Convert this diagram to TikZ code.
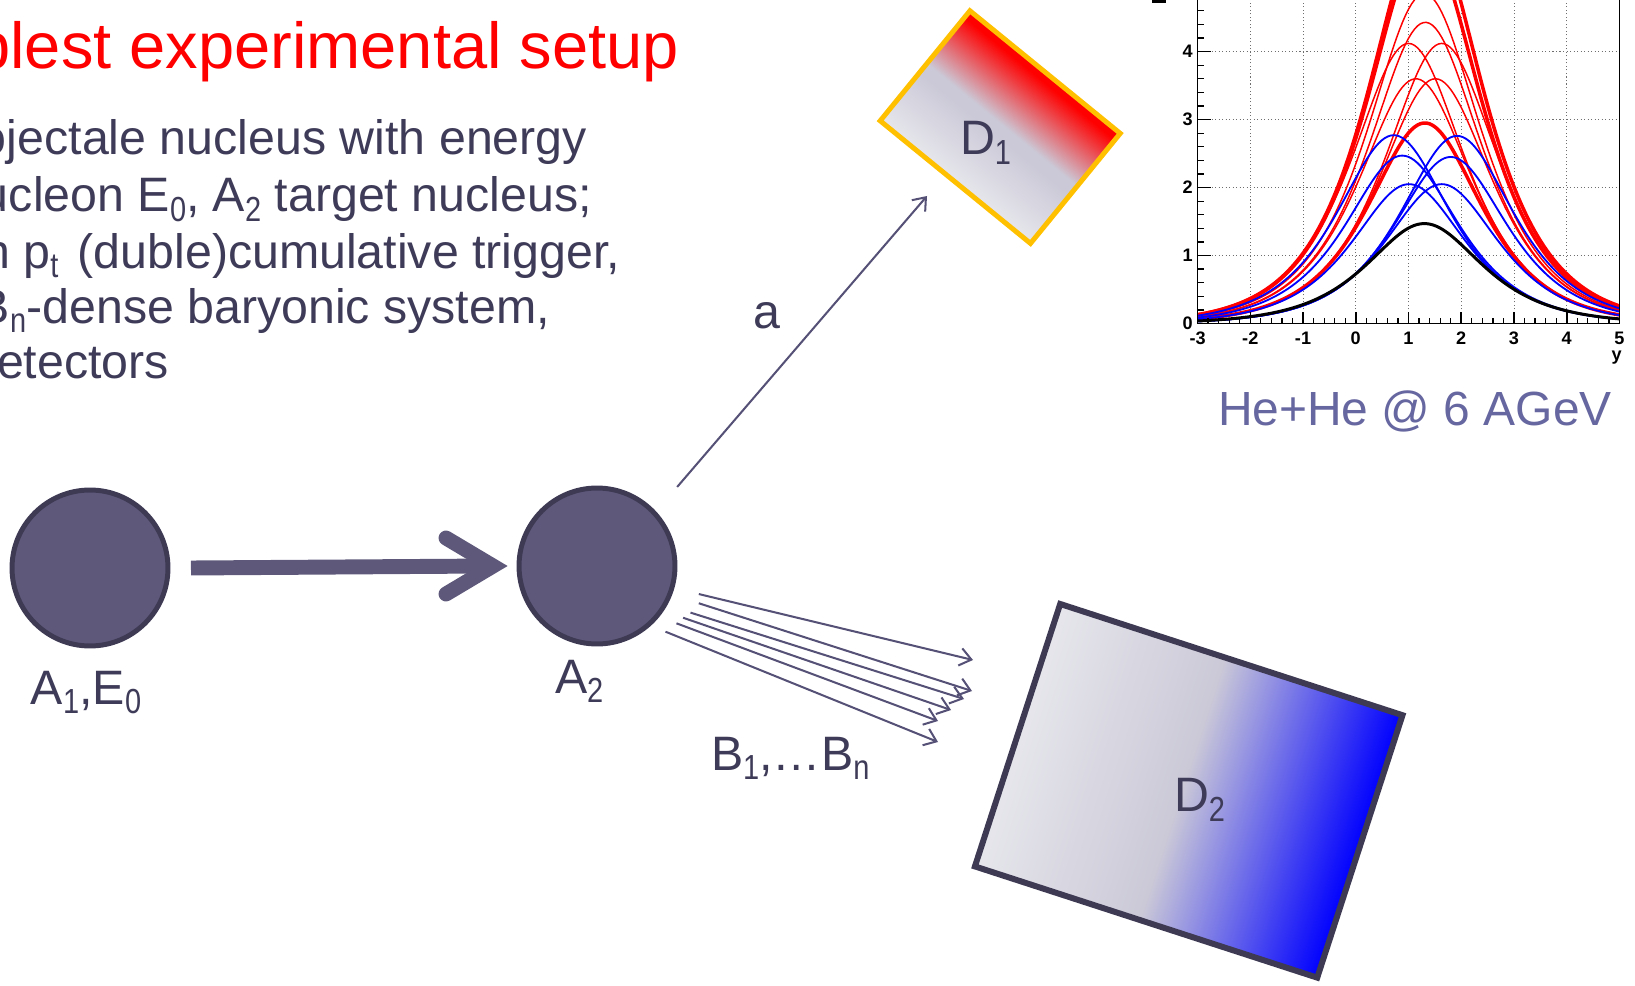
\documentclass[tikz,border=0pt]{standalone}
\usepackage{fontspec}
\setmainfont{Liberation Sans}
\usepackage{graphicx}
\usetikzlibrary{calc,arrows.meta}
\definecolor{txt}{RGB}{62,59,88}
\definecolor{nuc}{RGB}{94,88,122}
\definecolor{nucborder}{RGB}{62,58,84}
\definecolor{arr}{RGB}{85,80,118}
\definecolor{hecol}{RGB}{102,102,160}
\definecolor{d1border}{RGB}{255,192,0}
\definecolor{d2border}{RGB}{62,58,84}
\definecolor{dlight}{RGB}{230,230,236}
\definecolor{dmid}{RGB}{203,201,215}
\definecolor{gridc}{RGB}{110,110,110}
\definecolor{pred}{RGB}{255,0,0}
\definecolor{pblue}{RGB}{0,0,255}
\pgfdeclareverticalshading{dOneShade}{100bp}{color(0bp)=(dlight); color(25bp)=(dlight); color(47bp)=(dmid); color(51bp)=(dmid); color(72bp)=(pred); color(100bp)=(pred)}
\pgfdeclarehorizontalshading{dTwoShade}{100bp}{color(0bp)=(dlight); color(25bp)=(dlight); color(49bp)=(dmid); color(75bp)=(pblue); color(100bp)=(pblue)}
\newcommand\lo[1]{\raisebox{-0.2em}{\scalebox{0.6}[0.72]{#1}}}
\tikzset{
  bodytext/.style={anchor=base west, inner sep=0pt, outer sep=0pt, text=txt, font=\fontsize{27.5pt}{33pt}\selectfont},
  titletext/.style={anchor=base west, inner sep=0pt, outer sep=0pt, text=pred, font=\fontsize{37pt}{44pt}\selectfont},
  hetext/.style={anchor=base west, inner sep=0pt, outer sep=0pt, text=hecol, font=\fontsize{27.3pt}{33pt}\selectfont},
  nucleus/.style={circle, fill=nuc, draw=nucborder, line width=2.83pt, minimum size=3.12cm, inner sep=0pt, outer sep=0pt},
  bigarrow/.style={draw=nuc, line width=8.5pt},
  thinarrow/.style={draw=arr, line width=1.15pt, -{Straight Barb[length=6.5pt,width=10pt,line width=1.15pt]}},
  detbox/.style={rectangle, inner sep=0pt, outer sep=0pt},
  gridline/.style={draw=gridc, line width=0.55pt, dash pattern=on 0.6pt off 1.4pt},
  axisline/.style={draw=black, line width=0.9pt},
  ticklbl/.style={inner sep=0pt, font=\fontsize{10.3pt}{12pt}\selectfont\bfseries},
  redthick/.style={draw=pred, line width=2.0pt},
  redthin/.style={draw=pred, line width=0.85pt},
  bluecurve/.style={draw=pblue, line width=1.05pt},
  blackcurve/.style={draw=black, line width=1.7pt}
}
\begin{document}
\begin{tikzpicture}[x=0.02cm, y=-0.02cm]
\useasboundingbox (0,0) rectangle (1635,986);
\clip (0,0) rectangle (1635,986);

% ---------- text block ----------
\node[titletext] (title) at (-25.7,68.3) {plest experimental setup};
\node[bodytext] (l1) at (-20,155) {ojectale nucleus with energy};
\node[bodytext] (l2) at (-18,211.7) {ucleon E\lo{0}, A\lo{2} target nucleus;};
\node[bodytext] (l3) at (-16.8,268.3) {h p\lo{t}\hspace{0.4em}(duble)cumulative trigger,};
\node[bodytext] (l4) at (-22,323.3) {B\lo{n}-dense baryonic system,};
\node[bodytext] (l5) at (-3,378.3) {etectors};

% ---------- nuclei ----------
\node[nucleus] (A1) at (90,568) {};
\node[nucleus] (A2) at (597,566) {};
\node[bodytext] (A1lbl) at (31,704) {A\lo{1},E\lo{0}};
\node[bodytext] (A2lbl) at (555,693) {A\lo{2}};

% big arrow A1 -> A2
\draw[bigarrow, line cap=butt] ($(A1.east)+(23,0)$) -- ($(A2.west)+(-30,0)$);
\draw[bigarrow, line cap=round, line join=miter] ($(A2.west)+(-73,-28)$) -- ($(A2.west)+(-26,0)$) -- ($(A2.west)+(-73,28)$);

% ---------- detectors ----------
\begin{scope}[transform canvas={shift={(1000.2,127.1)}, rotate=-39.2}]
  \node[detbox, draw=d1border, line width=2.83pt, shading=dOneShade, minimum width=3.88cm, minimum height=2.84cm] (D1) at (0,0) {};
\end{scope}
\node[bodytext] (D1lbl) at (960,155) {D\lo{1}};
\begin{scope}[transform canvas={shift={(1188.7,790.8)}, rotate=-18}]
  \node[detbox, draw=d2border, line width=3.4pt, shading=dTwoShade, minimum width=7.2cm, minimum height=5.52cm] (D2) at (0,0) {};
\end{scope}
\node[bodytext] (D2lbl) at (1174,811.7) {D\lo{2}};

% ---------- particle a ----------
\coordinate (aend) at (927,196);
\draw[thinarrow] ($(A2)+(-44.6:112.6)$) -- (aend);
\node[bodytext] (alabel) at (753,328.3) {a};

% ---------- fan B1..Bn ----------
\coordinate (f1) at (973,660);
\coordinate (f2) at (972,691);
\coordinate (f3) at (964,699);
\coordinate (f4) at (951,710);
\coordinate (f5) at (938,721);
\coordinate (f6) at (938,742);
\draw[thinarrow] ($(A2)+(15.4:105.6)$) -- (f1);
\draw[thinarrow] ($(A2)+(20.1:108.4)$) -- (f2);
\draw[thinarrow] ($(A2)+(26.5:104.5)$) -- (f3);
\draw[thinarrow] ($(A2)+(31:100.5)$) -- (f4);
\draw[thinarrow] ($(A2)+(35.8:98)$) -- (f5);
\draw[thinarrow] ($(A2)+(43.8:94.9)$) -- (f6);
\node[bodytext] (Blbl) at (711,770) {B\lo{1},\ldots B\lo{n}};

% ---------- plot ----------
\fill[black] (1152,0) rectangle (1166,3.5);
\node[hetext] (he) at (1218,425) {He+He @ 6 AGeV};
\begin{scope}[shift={(1355.75,323.5)}, x=1.055cm, y=1.36cm]
  \foreach \i in {-2,...,4} \draw[gridline] (\i,0) -- (\i,5);
  \foreach \j in {1,...,4} \draw[gridline] (-3,\j) -- (5,\j);
  % curves
  \foreach \A/\c in {5.9/1.33, 5.62/1.30, 2.95/1.31}
    \draw[redthick] plot[domain=-3:5, samples=141] (\x,{\A/cosh((\x-\c)/0.96)});
  \foreach \A/\c in {4.85/1.30, 4.43/1.32, 4.12/1.0, 4.12/1.63, 3.6/1.14, 3.6/1.51}
    \draw[redthin] plot[domain=-3:5, samples=141] (\x,{\A/cosh((\x-\c)/0.96)});
  \foreach \A/\c in {2.77/0.72, 2.76/1.92, 2.47/0.88, 2.45/1.8, 2.05/1.01, 2.05/1.63}
    \draw[bluecurve] plot[domain=-3:5, samples=141] (\x,{\A/cosh((\x-\c)/0.96)});
  \draw[blackcurve] plot[domain=-3:5, samples=141] (\x,{1.47/cosh((\x-1.30)/0.98)});
  % frame and axes
  \draw[axisline] (-3,5) -- (-3,0) -- (5,0) -- (5,5);
  \foreach \k in {0,...,24} \draw[axisline, line width=0.7pt] (-3,\k*0.2) -- (-2.87,\k*0.2);
  \foreach \j in {0,...,4} \draw[axisline] (-3,\j) -- (-2.754,\j);
  \foreach \k in {0,...,40} \draw[axisline, line width=0.7pt] (-3+\k*0.2,0) -- (-3+\k*0.2,0.074);
  \foreach \i in {-3,...,5} \draw[axisline] (\i,0) -- (\i,0.17);
  \foreach \j in {0,...,4} \node[ticklbl, anchor=east] (ylab\j) at (-3.085,\j) {\j};
  \foreach \i in {-3,...,5} \node[ticklbl, anchor=north] (xlab\i) at (\i,-0.125) {\i};
  \node[ticklbl, anchor=north east] (ytitle) at (5.05,-0.4) {y};
\end{scope}
\end{tikzpicture}
\end{document}
